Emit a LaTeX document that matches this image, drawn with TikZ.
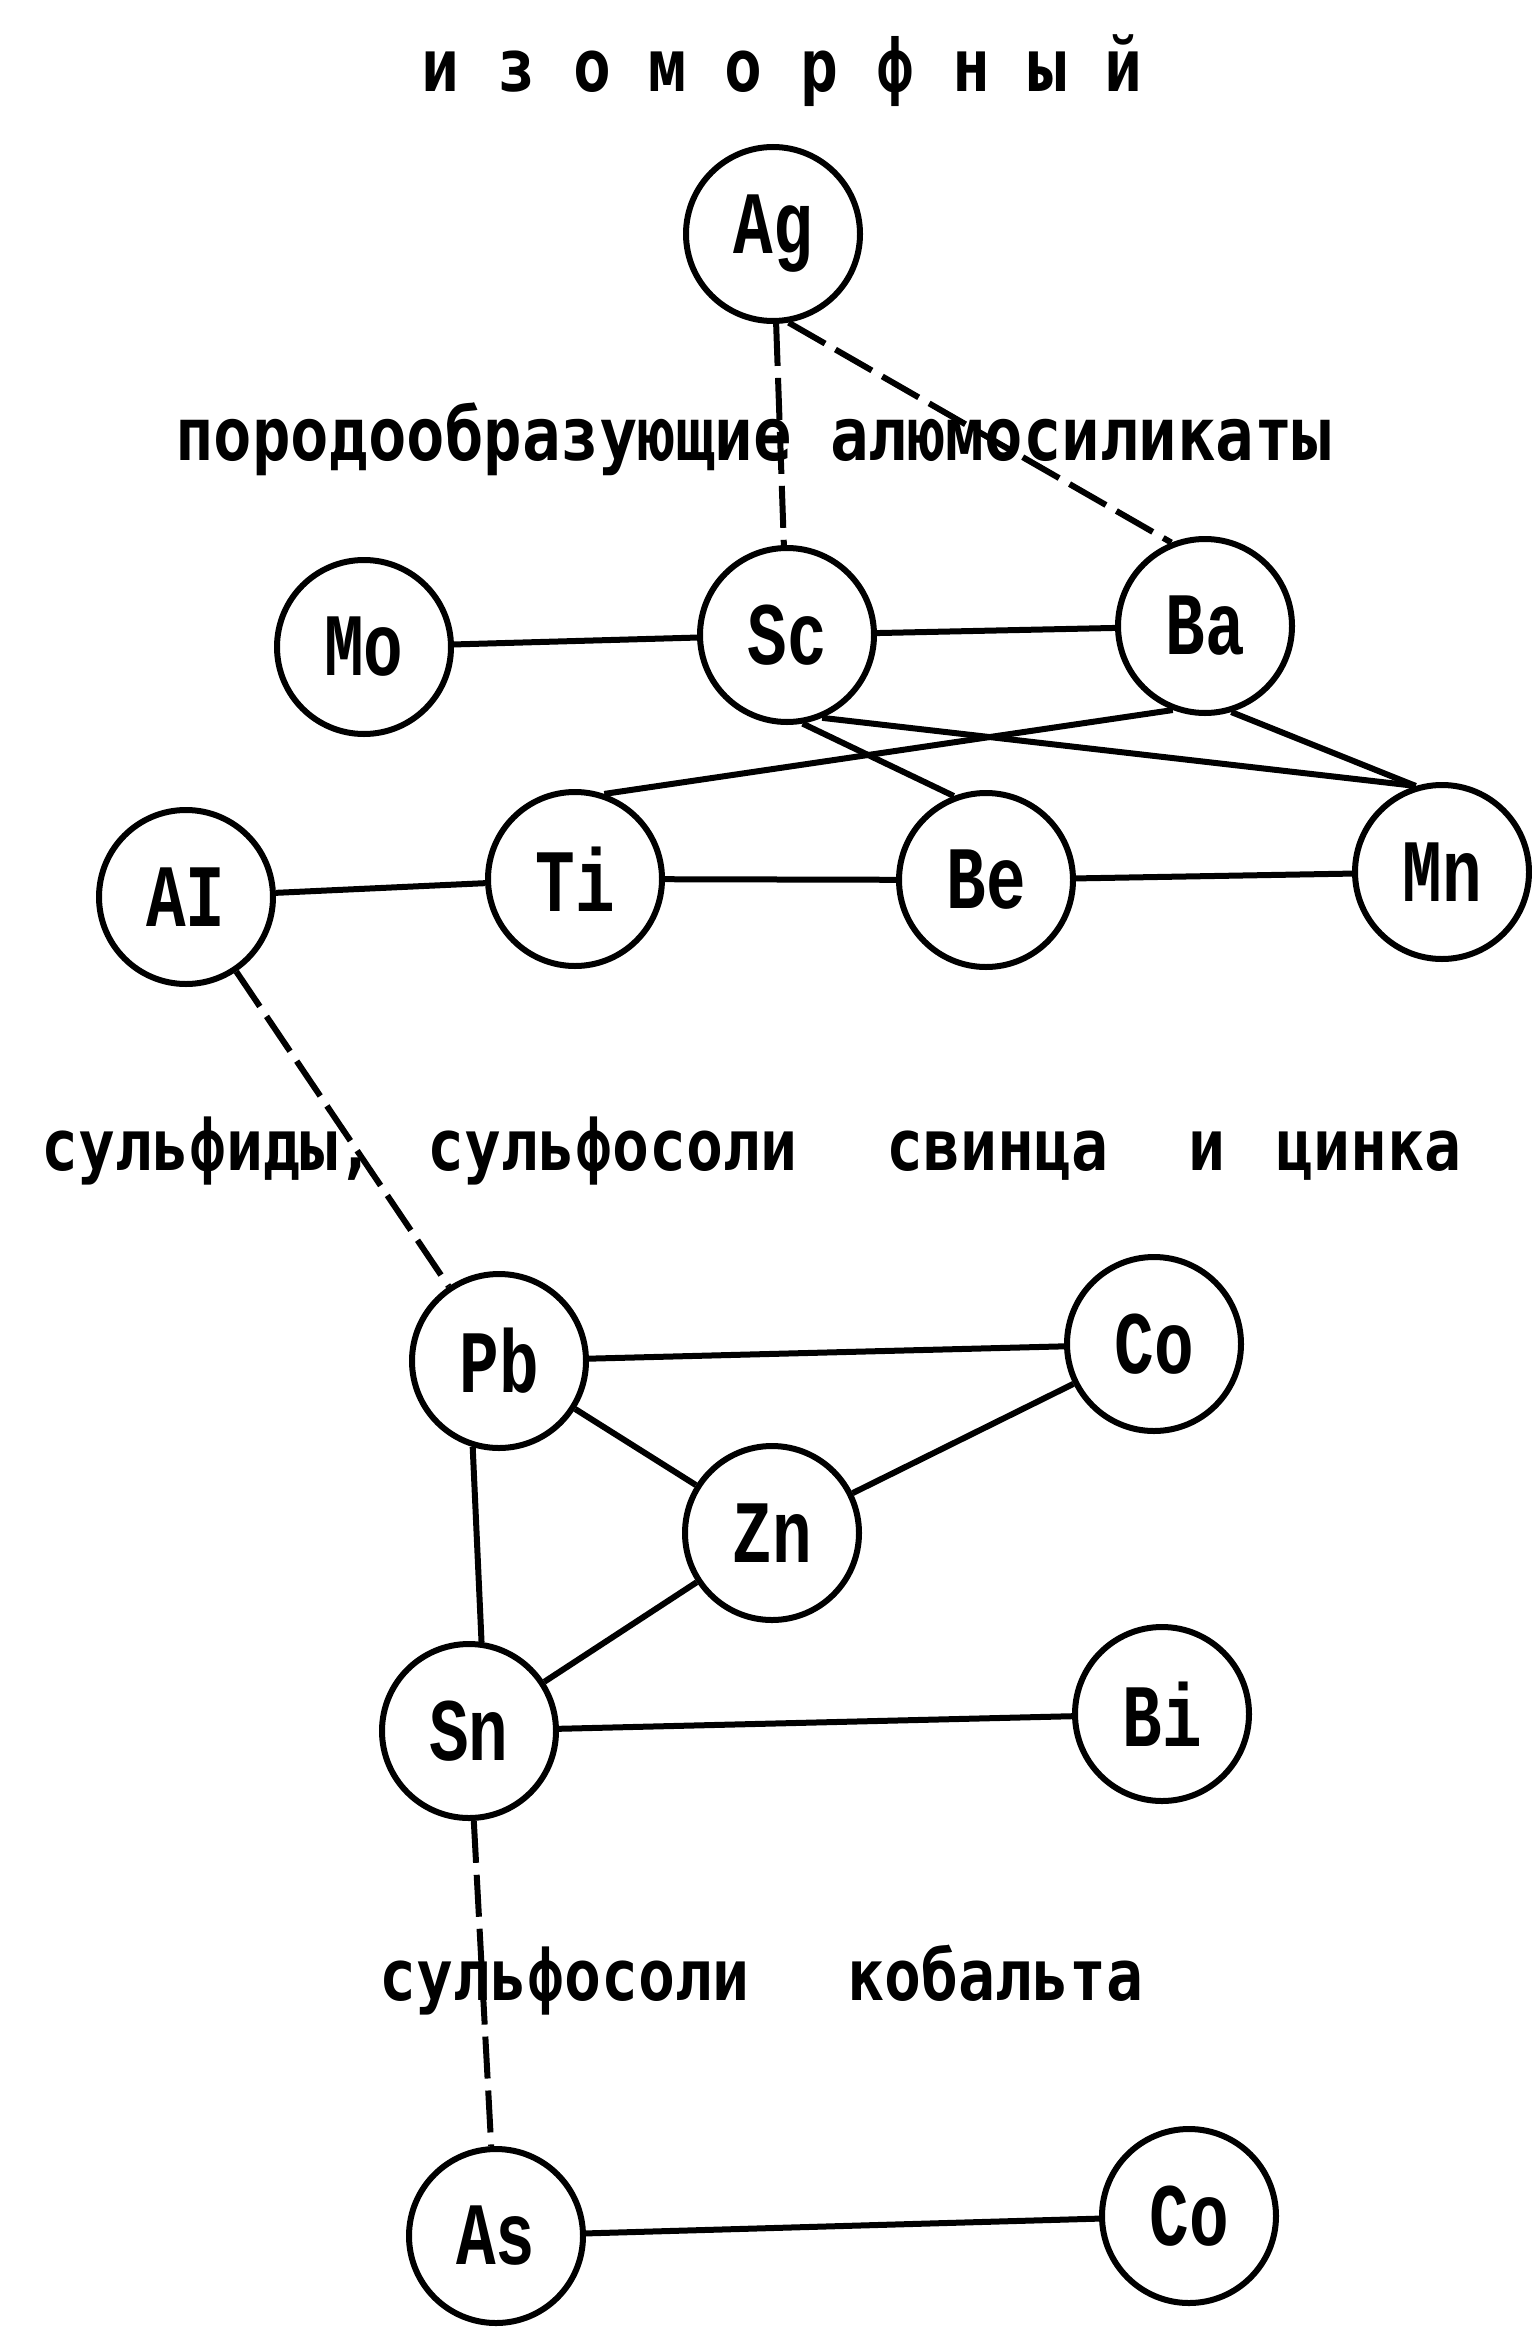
\documentclass[tikz,border=0pt]{standalone}
\usepackage{fontspec}
\usepackage{graphicx}
\newfontfamily\symfont{Liberation Mono}
\newfontfamily\cyrfont{DejaVu Sans Mono}

% element symbols: tall, narrow typewriter letters
\newcommand\elabel[1]{\scalebox{1}[1.35]{#1}}
% captions between the groups
\newcommand\ctext[1]{\scalebox{1}[1.15]{#1}}

\tikzset{
  elem/.style={circle, draw, line width=3pt, minimum size=87pt, inner sep=0pt,
               font=\symfont\bfseries\fontsize{33}{33}\selectfont},
  link/.style={line width=3pt},
  dlink/.style={line width=3pt, dash pattern=on 21pt off 6pt},
  caption/.style={inner sep=0pt, anchor=base west,
                  font=\cyrfont\bfseries\fontsize{30.7}{30.7}\selectfont},
  bigcaption/.style={caption, font=\cyrfont\bfseries\fontsize{32}{32}\selectfont},
}

\begin{document}
\begin{tikzpicture}[x=0.5pt,y=-0.5pt]
\fill[white] (0,0) rectangle (1531,2349);
\useasboundingbox (0,0) rectangle (1531,2349);

% heading
\node[caption, font=\cyrfont\bfseries\fontsize{31.5}{31.5}\selectfont] (title) at (421,92)
  {\ctext{и з о м о р ф н ы й}};

% captions
\node[bigcaption] (capA) at (175,460) {\ctext{породообразующие алюмосиликаты}};
\node[caption] (capB1) at (41,1170) {\ctext{сульфиды,}};
\node[caption] (capB2) at (427,1170) {\ctext{сульфосоли}};
\node[caption] (capB3) at (886,1170) {\ctext{свинца}};
\node[caption] (capB4) at (1188,1170) {\ctext{и}};
\node[caption] (capB5) at (1276,1170) {\ctext{цинка}};
\node[caption] (capC1) at (379,2000) {\ctext{сульфосоли}};
\node[caption] (capC2) at (847,2000) {\ctext{кобальта}};

% elements
\node[elem] (Ag) at (773,234) {\elabel{Ag}};
\node[elem] (Mo) at (364,647) {\elabel{Mo}};
\node[elem] (Sc) at (787,635) {\elabel{Sc}};
\node[elem] (Ba) at (1205,626) {\elabel{Ba}};
\node[elem] (Al) at (186,897) {\elabel{AI}};
\node[elem] (Ti) at (575,879) {\elabel{Ti}};
\node[elem] (Be) at (986,880) {\elabel{Be}};
\node[elem] (Mn) at (1442,872) {\elabel{Mn}};
\node[elem] (Pb) at (499,1361) {\elabel{Pb}};
\node[elem] (CoA) at (1154,1344) {\elabel{Co}};
\node[elem] (Zn) at (772,1533) {\elabel{Zn}};
\node[elem] (Sn) at (469,1731) {\elabel{Sn}};
\node[elem] (Bi) at (1162,1714) {\elabel{Bi}};
\node[elem] (As) at (496,2236) {\elabel{As}};
\node[elem] (CoB) at (1189,2216) {\elabel{Co}};

% connections
\draw[dlink] (Ag) -- (Sc);
\draw[dlink] (Ag.280) -- (Ba.112);
\draw[link] (Mo) -- (Sc);
\draw[link] (Sc) -- (Ba);
\draw[link] (Sc.280) -- (Be.111);
\draw[link] (Sc.293) -- (Mn.107);
\draw[link] (Ba.249) -- (Ti.71);
\draw[link] (Ba.287) -- (Mn.107);
\draw[link] (Al) -- (Ti);
\draw[link] (Ti) -- (Be);
\draw[link] (Be) -- (Mn);
\draw[dlink] (Al) -- (Pb);
\draw[link] (Pb) -- (CoA);
\draw[link] (Pb) -- (Zn);
\draw[link] (CoA) -- (Zn);
\draw[link] (Pb.253) -- (Sn.82);
\draw[link] (Zn) -- (Sn);
\draw[link] (Sn) -- (Bi);
\draw[dlink] (Sn) -- (As);
\draw[link] (As) -- (CoB);
\end{tikzpicture}
\end{document}
